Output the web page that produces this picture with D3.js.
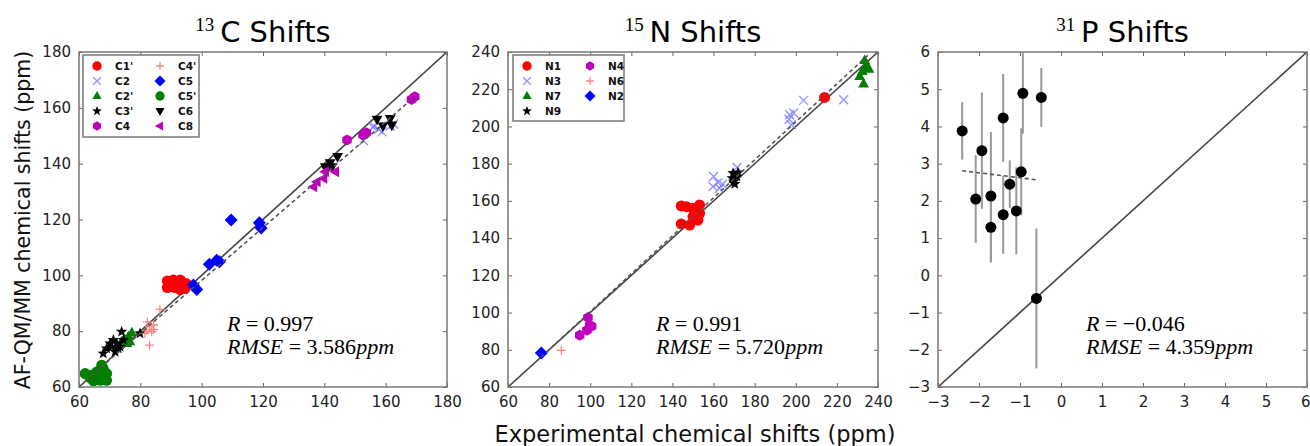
<!DOCTYPE html>
<html><head><meta charset="utf-8">
<script src="https://cdn.jsdelivr.net/npm/d3@7"></script>
<style>body{margin:0;background:#fff}</style></head>
<body>
<svg id="c" width="1310" height="446"></svg>
<script>
// ---------- DATA ----------
// 13C shifts: [experimental, AF-QM/MM]
const c1p = [[88.8,98.0],[88.8,95.6],[90.8,98.3],[91.3,95.6],[93.0,98.3],[93.2,96.5],[94.9,97.1],[93.0,94.9],[94.6,95.3],[90.3,96.5]];
const c2 = [[152.8,148.2],[155.9,153.0],[157.7,152.3],[158.8,151.4],[161.5,153.5],[162.6,154.2],[156.1,153.5]];
const c2p = [[75.0,76.8],[76.1,78.0],[77.2,79.4],[75.6,75.6],[73.9,76.2],[76.6,76.2]];
const c3p = [[69.0,73.8],[70.1,75.6],[71.2,76.8],[72.3,75.6],[72.8,73.8],[71.8,72.6],[73.9,79.8],[73.4,74.4],[79.9,79.2],[70.7,74.4],[74.5,76.8],[67.9,72.0]];
const c4 = [[168.4,163.0],[169.5,164.0],[147.4,148.5],[152.6,150.3],[153.7,151.1]];
const c4p = [[82.1,80.4],[83.0,81.6],[84.3,82.2],[81.5,79.2],[83.7,79.8],[83.0,75.0],[86.4,87.8],[82.3,83.3],[84.3,80.6]];
const c5 = [[109.6,119.8],[118.8,118.8],[119.4,117.0],[102.5,104.0],[104.9,105.4],[105.8,104.9],[97.3,96.5],[98.4,94.9]];
const c5p = [[62.0,64.8],[63.6,63.4],[64.7,62.2],[66.9,62.4],[69.0,62.4],[67.9,66.6],[65.8,65.4],[64.1,64.2],[69.0,64.8],[67.4,67.8]];
const c6 = [[157.2,155.9],[161.5,156.1],[162.0,153.8],[159.1,153.5],[140.3,138.9],[141.9,140.3],[144.3,142.5],[140.8,137.7],[142.5,138.9]];
const c8 = [[136.5,131.7],[139.8,134.7],[137.6,133.5],[140.3,137.1],[143.6,137.1]];
const cFit = [[62,62.2],[169.5,164.0]];

// 15N shifts
const n1 = [[144.3,157.3],[146.8,156.9],[150.0,156.0],[153.2,157.8],[151.6,154.2],[144.3,147.6],[148.4,147.0],[152.4,149.7],[150.0,151.5],[153.2,153.3],[214.0,215.6]];
const n3 = [[160.0,173.1],[162.2,169.8],[163.0,166.8],[159.7,167.7],[164.3,168.9],[171.4,177.9],[197.0,206.3],[199.0,207.2],[197.8,200.9],[203.8,214.0],[223.3,214.3],[196.7,203.9]];
const n7 = [[233.5,235.5],[234.3,232.3],[235.6,230.8],[231.1,226.9],[233.0,222.9],[232.4,229.6]];
const n9 = [[169.5,174.9],[171.4,173.1],[169.8,170.4],[171.9,175.2],[170.3,169.1],[169.1,172.2]];
const n4 = [[98.9,97.3],[99.7,93.2],[100.7,92.7],[98.4,90.5],[94.9,87.8]];
const n6 = [[85.9,79.7]];
const n2 = [[76.2,78.3]];
const nFit = [[76,76.0],[236,239.2]];

// 31P shifts: [experimental, AF-QM/MM, error]
const p31 = [[-2.41,3.88,0.77],[-1.93,3.35,1.56],[-2.08,2.05,1.18],[-1.71,2.13,1.72],[-1.71,1.29,0.95],
             [-1.41,4.23,1.18],[-1.41,1.63,1.05],[-1.25,2.45,0.64],[-1.09,1.73,1.17],[-0.97,2.78,1.17],
             [-0.93,4.89,1.08],[-0.48,4.78,0.79],[-0.60,-0.62,1.88]];
const pFit = [[-2.41,2.81],[-0.55,2.56]];

const cTicks = [60,80,100,120,140,160,180];
const nTicks = [60,80,100,120,140,160,180,200,220,240];
const pTicks = [-3,-2,-1,0,1,2,3,4,5,6];

const cStats = {R:"0.997", RMSE:"3.586"};
const nStats = {R:"0.991", RMSE:"5.720"};
const pStats = {R:"\u22120.046", RMSE:"4.359"};

// ---------- STYLE / MARKERS ----------
const svg = d3.select("#c");
const MINUS = "\u2212";
function markerPath(type, s){
  const p = d3.path();
  if(type==="o"){ p.arc(0,0,s,0,2*Math.PI); }
  else if(type==="h"){ for(let i=0;i<6;i++){const a=Math.PI/6+i*Math.PI/3; const x=s*Math.cos(a), y=s*Math.sin(a); i?p.lineTo(x,y):p.moveTo(x,y);} p.closePath(); }
  else if(type==="D"){ p.moveTo(0,-s); p.lineTo(s,0); p.lineTo(0,s); p.lineTo(-s,0); p.closePath(); }
  else if(type==="^"){ p.moveTo(0,-s); p.lineTo(s*0.9,s*0.6); p.lineTo(-s*0.9,s*0.6); p.closePath(); }
  else if(type==="v"){ p.moveTo(0,s); p.lineTo(s*0.9,-s*0.6); p.lineTo(-s*0.9,-s*0.6); p.closePath(); }
  else if(type==="<"){ p.moveTo(-s,0); p.lineTo(s*0.6,-s*0.9); p.lineTo(s*0.6,s*0.9); p.closePath(); }
  else if(type==="*"){ for(let i=0;i<10;i++){const r=i%2?s*0.42:s; const a=-Math.PI/2+i*Math.PI/5; const x=r*Math.cos(a), y=r*Math.sin(a); i?p.lineTo(x,y):p.moveTo(x,y);} p.closePath(); }
  else if(type==="x"){ p.moveTo(-s,-s); p.lineTo(s,s); p.moveTo(-s,s); p.lineTo(s,-s); }
  else if(type==="+"){ p.moveTo(-s,0); p.lineTo(s,0); p.moveTo(0,-s); p.lineTo(0,s); }
  return p.toString();
}
function drawMarker(g, type, color, s, x, y, op){
  const stroke = (type==="x"||type==="+");
  g.append("path").attr("d", markerPath(type,s)).attr("transform",`translate(${x},${y})`)
    .attr("fill", stroke?"none":color).attr("stroke", stroke?color:"none")
    .attr("stroke-width", stroke?1.3:0).attr("opacity", op);
}

const cSeries = [
  {name:"C1'", data:c1p, m:"o", col:"#ff0000", s:5.5, op:1},
  {name:"C2",  data:c2,  m:"x", col:"#7777ff", s:4.5, op:0.8},
  {name:"C2'", data:c2p, m:"^", col:"#007f00", s:6, op:1},
  {name:"C3'", data:c3p, m:"*", col:"#000000", s:6, op:1},
  {name:"C4",  data:c4,  m:"h", col:"#bf00bf", s:5.5, op:1},
  {name:"C4'", data:c4p, m:"+", col:"#ff7777", s:4.5, op:0.9},
  {name:"C5",  data:c5,  m:"D", col:"#0000ff", s:6.5, op:1},
  {name:"C5'", data:c5p, m:"o", col:"#007f00", s:5.5, op:1},
  {name:"C6",  data:c6,  m:"v", col:"#000000", s:6, op:1},
  {name:"C8",  data:c8,  m:"<", col:"#bf00bf", s:6, op:1}
];
const nSeries = [
  {name:"N1", data:n1, m:"o", col:"#ff0000", s:5.5, op:1},
  {name:"N3", data:n3, m:"x", col:"#7777ff", s:4.5, op:0.8},
  {name:"N7", data:n7, m:"^", col:"#007f00", s:6, op:1},
  {name:"N9", data:n9, m:"*", col:"#000000", s:6, op:1},
  {name:"N4", data:n4, m:"h", col:"#bf00bf", s:5.5, op:1},
  {name:"N6", data:n6, m:"+", col:"#ff7777", s:4.5, op:0.9},
  {name:"N2", data:n2, m:"D", col:"#0000ff", s:6.5, op:1}
];

const panels = [
  {x0:79, x1:447, dom:[60,180], ticks:cTicks, sup:"13", el:"C", series:cSeries, fit:cFit, stats:cStats, rows:5, leg:[83,55,199,137]},
  {x0:508, x1:878, dom:[60,240], ticks:nTicks, sup:"15", el:"N", series:nSeries, fit:nFit, stats:nStats, rows:4, leg:[513,55,624,121]},
  {x0:938, x1:1307, dom:[-3,6], ticks:pTicks, sup:"31", el:"P", series:null, fit:pFit, stats:pStats}
];
const Y0 = 52, Y1 = 387;

panels.forEach((P,pi)=>{
  const x = d3.scaleLinear().domain(P.dom).range([P.x0,P.x1]);
  const y = d3.scaleLinear().domain(P.dom).range([Y1,Y0]);
  const g = svg.append("g");
  const clipId = "clip"+pi;
  svg.append("clipPath").attr("id",clipId).append("rect").attr("x",P.x0).attr("y",Y0).attr("width",P.x1-P.x0).attr("height",Y1-Y0);
  const fmt = v => (v<0? MINUS+Math.abs(v): String(v));

  // axes via d3 (inward ticks)
  const axB = d3.axisBottom(x).tickValues(P.ticks).tickSize(-4).tickPadding(9).tickFormat(fmt);
  const axT = d3.axisTop(x).tickValues(P.ticks).tickSize(-4).tickFormat("");
  const axL = d3.axisLeft(y).tickValues(P.ticks).tickSize(-4).tickPadding(8).tickFormat(fmt);
  const axR = d3.axisRight(y).tickValues(P.ticks).tickSize(-4).tickFormat("");
  [[axB,`translate(0,${Y1})`],[axT,`translate(0,${Y0})`],[axL,`translate(${P.x0},0)`],[axR,`translate(${P.x1},0)`]].forEach(([ax,t],ai)=>{
    const a = g.append("g").attr("transform",t).call(ax);
    a.select(".domain").remove();
    a.selectAll(".tick line").attr("stroke","#666").attr("stroke-width",1);
    a.selectAll("text").attr("font-family","DejaVu Sans").attr("font-size",15).attr("fill","#222");
    if(ai===0 && pi===2){
      a.selectAll(".tick").filter(d=>d===P.dom[1]).select("text").attr("text-anchor","end").attr("dx",3);
    }
  });

  const plot = g.append("g").attr("clip-path",`url(#${clipId})`);
  // diagonal
  plot.append("line").attr("x1",x(P.dom[0])).attr("y1",y(P.dom[0])).attr("x2",x(P.dom[1])).attr("y2",y(P.dom[1]))
    .attr("stroke","#444").attr("stroke-width",1.6);

  if(P.series){
    P.series.forEach(S=>{
      S.data.forEach(d=>drawMarker(plot,S.m,S.col,S.s,x(d[0]),y(d[1]),S.op));
    });
  } else {
    p31.forEach(d=>{
      plot.append("line").attr("x1",x(d[0])).attr("x2",x(d[0])).attr("y1",y(d[1]-d[2])).attr("y2",y(d[1]+d[2]))
        .attr("stroke","#999").attr("stroke-width",2);
    });
  }
  // fit line
  plot.append("line").attr("x1",x(P.fit[0][0])).attr("y1",y(P.fit[0][1])).attr("x2",x(P.fit[1][0])).attr("y2",y(P.fit[1][1]))
    .attr("stroke","#555").attr("stroke-width",1.6).attr("stroke-dasharray","4,3");
  if(!P.series){
    p31.forEach(d=>drawMarker(plot,"o","#000",5.5,x(d[0]),y(d[1]),1));
  }

  // frame
  g.append("rect").attr("x",P.x0).attr("y",Y0).attr("width",P.x1-P.x0).attr("height",Y1-Y0)
    .attr("fill","none").attr("stroke","#777").attr("stroke-width",1.5);

  // legend
  if(P.series){
    const [lx0,ly0,lx1,ly1] = P.leg;
    g.append("rect").attr("x",lx0).attr("y",ly0).attr("width",lx1-lx0).attr("height",ly1-ly0)
      .attr("fill","#fff").attr("stroke","#777").attr("stroke-width",1.5);
    P.series.forEach((S,i)=>{
      const col = Math.floor(i/P.rows), row = i%P.rows;
      const mx = lx0 + 14 + col*63, my = ly0 + 11 + row*15;
      drawMarker(g,S.m,S.col,S.s*0.85,mx,my,S.op);
      g.append("text").attr("x",mx+18).attr("y",my+4).text(S.name)
        .attr("font-family","DejaVu Sans").attr("font-size",10.5).attr("font-weight","bold").attr("fill","#111");
    });
  }

  // title
  const cx = (P.x0+P.x1)/2;
  const t = g.append("text").attr("x",cx).attr("y",42).attr("text-anchor","middle").attr("fill","#000");
  t.append("tspan").text(P.sup).attr("font-family","Liberation Serif").attr("font-size",19).attr("dy",-11);
  t.append("tspan").text("\u2009"+P.el+" Shifts").attr("font-family","DejaVu Sans").attr("font-size",29).attr("dy",11);

  // stats
  const sx = P.x0 + 148;
  const r1 = g.append("text").attr("x",sx).attr("y",331).attr("font-family","Liberation Serif").attr("font-size",22).attr("fill","#000");
  r1.append("tspan").text("R").attr("font-style","italic");
  r1.append("tspan").text(" = "+P.stats.R);
  const r2 = g.append("text").attr("x",sx).attr("y",354).attr("font-family","Liberation Serif").attr("font-size",22).attr("fill","#000");
  r2.append("tspan").text("RMSE").attr("font-style","italic");
  r2.append("tspan").text(" = "+P.stats.RMSE);
  r2.append("tspan").text("ppm").attr("font-style","italic");
});

// axis labels
svg.append("text").attr("x",695).attr("y",442).attr("text-anchor","middle").text("Experimental chemical shifts (ppm)")
  .attr("font-family","DejaVu Sans").attr("font-size",22.5).attr("fill","#111");
svg.append("text").attr("transform","translate(30,220) rotate(-90)").attr("text-anchor","middle").text("AF-QM/MM chemical shifts (ppm)")
  .attr("font-family","DejaVu Sans").attr("font-size",20.5).attr("fill","#111");
</script>
</body></html>
